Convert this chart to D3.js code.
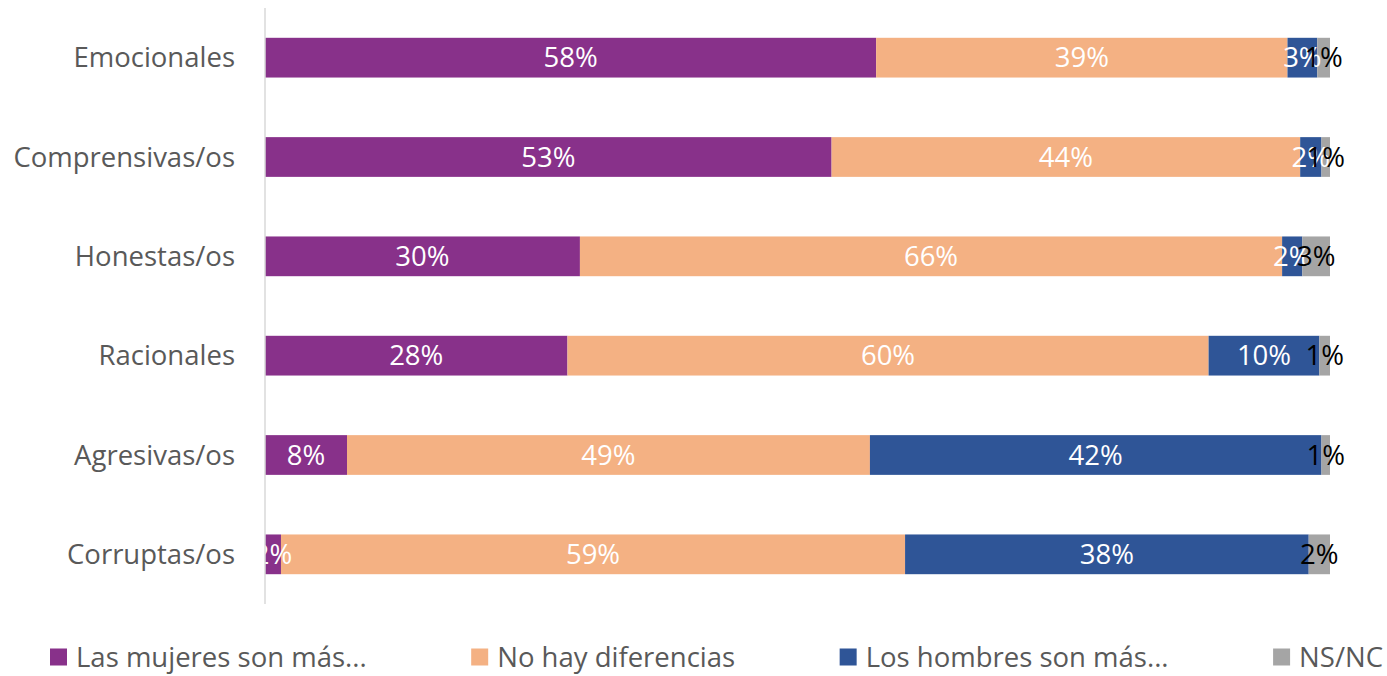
<!DOCTYPE html>
<html>
<head>
<meta charset="utf-8">
<script src="https://cdn.jsdelivr.net/npm/d3@7"></script>
<style>
  body { margin: 0; background: #fff; }
  svg { display: block; font-family: "Open Sans", "Noto Sans", sans-serif; }
</style>
</head>
<body>
<svg id="chart" width="1387" height="676"></svg>
<script>
// data (percent)
const categories = ["Emocionales", "Comprensivas/os", "Honestas/os", "Racionales", "Agresivas/os", "Corruptas/os"];
const seriesNames = ["Las mujeres son más...", "No hay diferencias", "Los hombres son más...", "NS/NC"];
const mujeres   = [57.5, 53.2, 29.6, 28.4,  7.7,  1.5];
const noDif     = [38.7, 44.0, 66.0, 60.2, 49.1, 58.6];
const hombres   = [ 2.8,  2.0,  1.9, 10.4, 42.4, 37.9];
const nsnc      = [ 1.2,  0.8,  2.6,  1.0,  0.8,  2.0];

const colors     = ["#88318a", "#f4b183", "#2f5597", "#a5a5a5"];
const textColors = ["#fff", "#fff", "#fff", "#000"];
const fontSize = "27.5px";

const rows = categories.map((c, i) => ({
  cat: c, s0: mujeres[i], s1: noDif[i], s2: hombres[i], s3: nsnc[i]
}));
const keys = ["s0", "s1", "s2", "s3"];

const svg = d3.select("#chart");
const margin = { left: 265, right: 57, top: 8, bottom: 72 };
const W = 1387, H = 676;

const x = d3.scaleLinear().domain([0, 1]).range([margin.left, W - margin.right]);
const y = d3.scaleBand().domain(categories).range([margin.top, H - margin.bottom])
  .paddingInner(0.6).paddingOuter(0.3);

const stack = d3.stack().keys(keys).offset(d3.stackOffsetExpand);
const layers = stack(rows);

const g = svg.append("g");
layers.forEach((layer, li) => {
  g.append("g").selectAll("rect").data(layer).enter().append("rect")
    .attr("x", d => x(d[0]))
    .attr("width", d => x(d[1]) - x(d[0]))
    .attr("y", d => y(d.data.cat))
    .attr("height", y.bandwidth())
    .attr("fill", colors[li]);
});

// axis line
svg.append("line")
  .attr("x1", margin.left).attr("x2", margin.left)
  .attr("y1", margin.top).attr("y2", H - margin.bottom)
  .attr("stroke", "#d9d9d9").attr("stroke-width", 1.5);

// value labels
layers.forEach((layer, li) => {
  g.append("g").selectAll("text").data(layer).enter().append("text")
    .attr("x", d => (x(d[0]) + x(d[1])) / 2)
    .attr("y", d => y(d.data.cat) + y.bandwidth() / 2)
    .attr("dy", "0.35em")
    .attr("text-anchor", "middle")
    .attr("fill", textColors[li])
    .style("font-size", fontSize)
    .text(d => Math.round(d.data[keys[li]]) + "%");
});

// category labels
svg.append("g").selectAll("text").data(categories).enter().append("text")
  .attr("x", margin.left - 30)
  .attr("y", d => y(d) + y.bandwidth() / 2)
  .attr("dy", "0.35em")
  .attr("text-anchor", "end")
  .attr("fill", "#595959")
  .style("font-size", fontSize)
  .text(d => d);

// legend, items separated by an equal gap
const legend = svg.append("g");
const items = seriesNames.map((n, i) => {
  const it = legend.append("g");
  it.append("rect").attr("width", 17).attr("height", 17).attr("y", -8.5).attr("fill", colors[i]);
  const t = it.append("text").attr("x", 26).attr("dy", "0.35em")
    .attr("fill", "#595959").style("font-size", fontSize).text(n);
  return { it, w: 26 + t.node().getComputedTextLength() };
});
const totalW = d3.sum(items, d => d.w);
const gap = (1383 - 50 - totalW) / (items.length - 1);
let lx = 50;
items.forEach(d => {
  d.it.attr("transform", `translate(${lx},657)`);
  lx += d.w + gap;
});
</script>
</body>
</html>
